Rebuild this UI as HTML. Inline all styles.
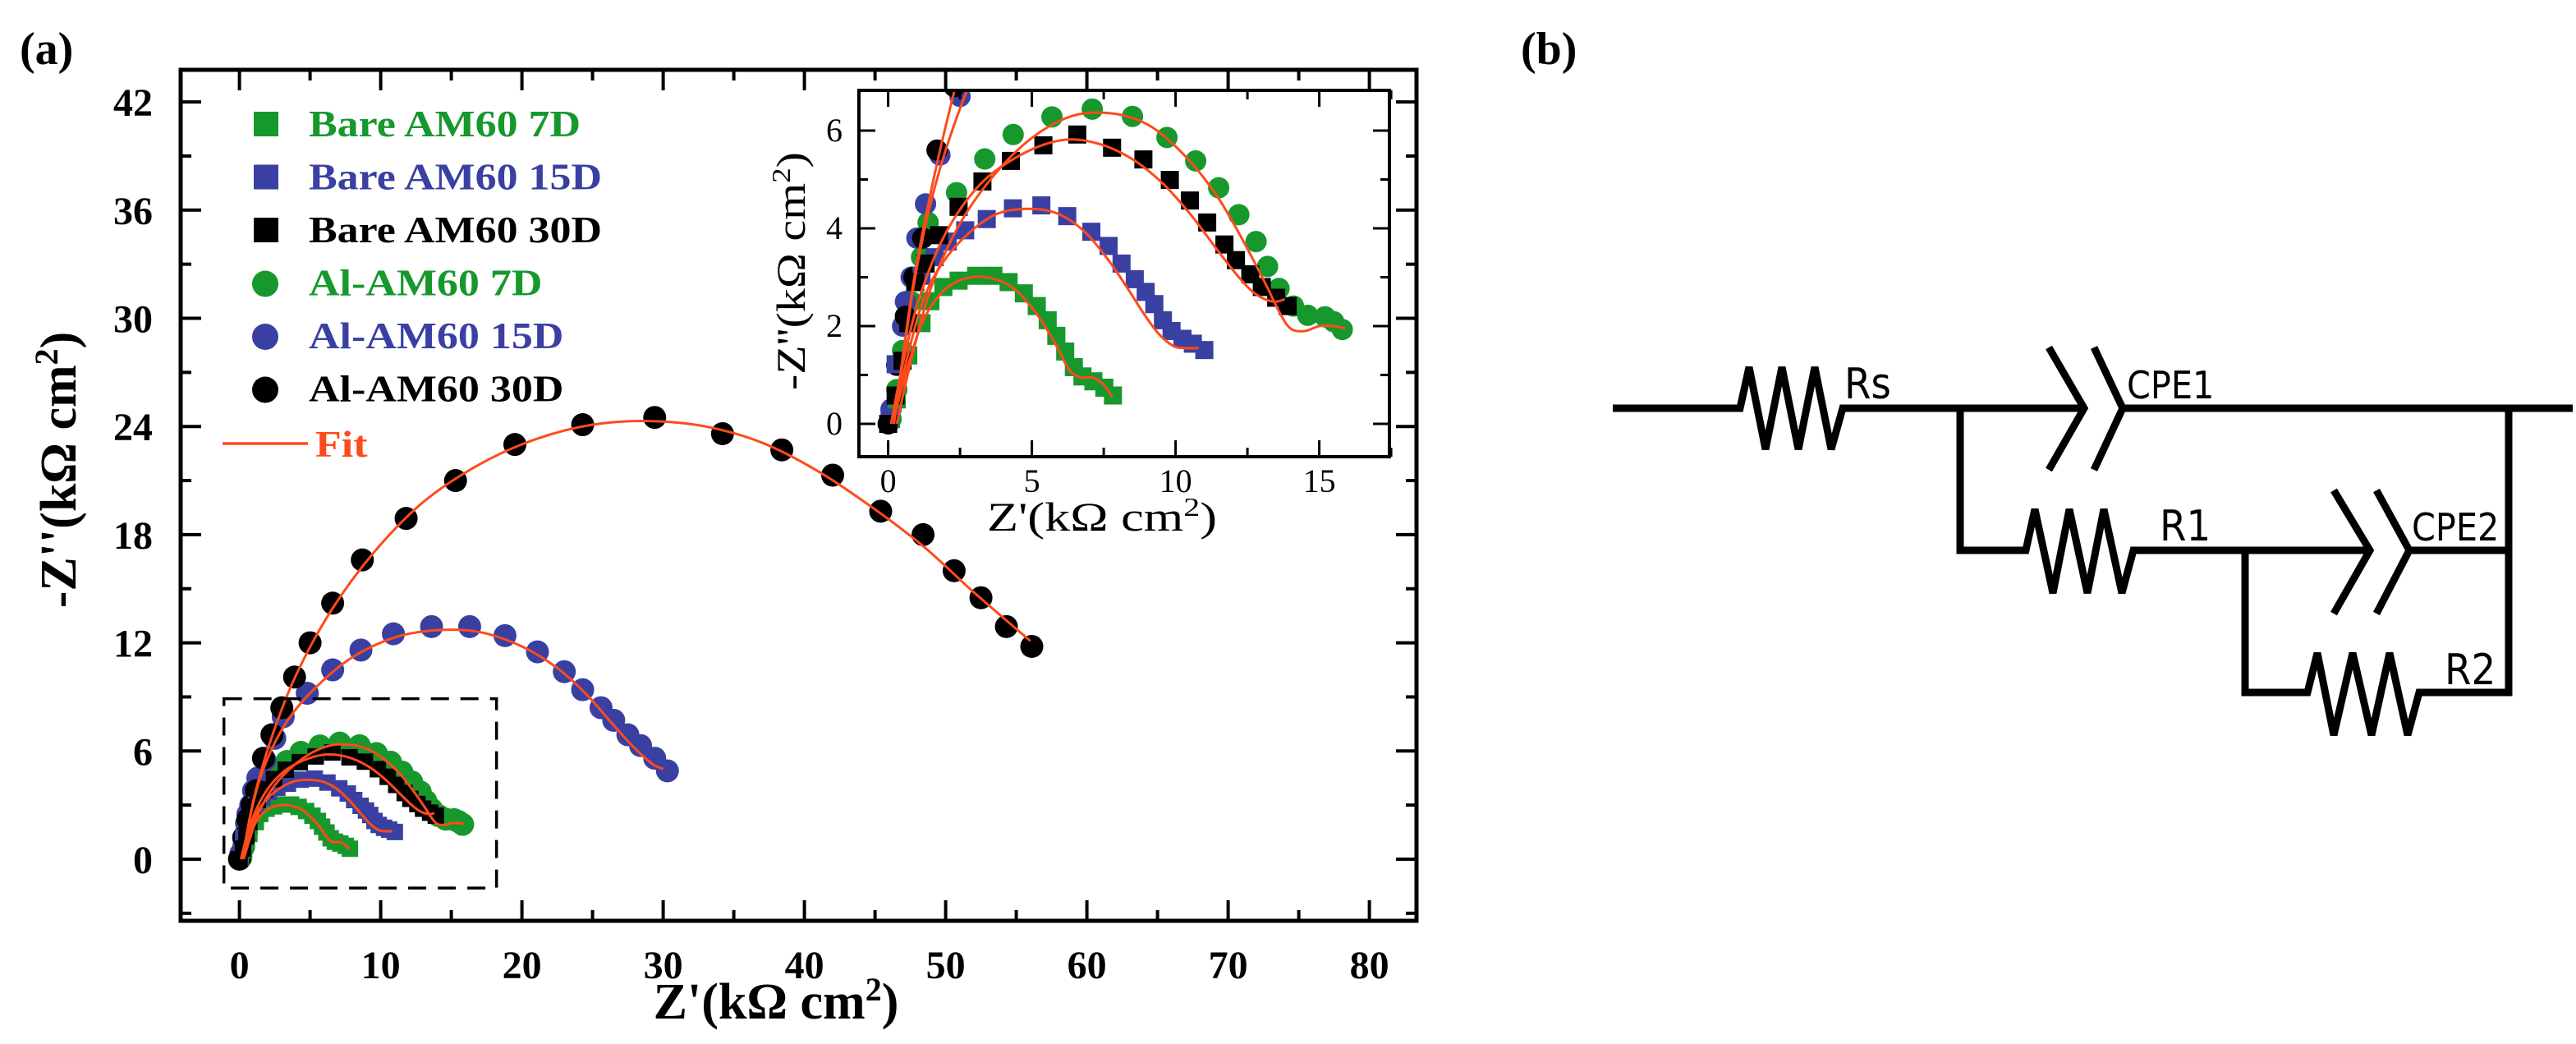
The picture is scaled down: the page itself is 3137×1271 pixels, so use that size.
<!DOCTYPE html>
<html><head><meta charset="utf-8"><style>
html,body{margin:0;padding:0;background:#fff;}
svg{display:block;}
</style></head><body>
<svg id="fig" width="3137" height="1271" viewBox="0 0 3137 1271" xmlns="http://www.w3.org/2000/svg">
<defs>
<clipPath id="insetClip"><rect x="1046" y="110" width="646" height="446"/></clipPath>
</defs>
<g id="panelA"></g>
<g id="panelB" fill="none" stroke="#000" stroke-width="9" stroke-linejoin="miter">
  <text x="1852" y="78" font-family="Liberation Serif, serif" font-weight="bold" font-size="56" fill="#000" stroke="none">(b)</text>
  <polyline points="1964,497 2119,497 2130,447 2150,547 2170,447 2190,547 2210,447 2230,547 2244,497 2387,497 2538,497"/>
  <text x="2246" y="485" font-family="DejaVu Sans Condensed, DejaVu Sans, sans-serif" font-size="52" fill="#000" stroke="none">Rs</text>
  <polyline points="2495,423 2538,497 2495,572"/>
  <polyline points="2550,423 2585,497 2550,572"/>
  <line x1="2585" y1="497" x2="3133" y2="497"/>
  <text x="2590" y="485" font-family="DejaVu Sans Condensed, DejaVu Sans, sans-serif" font-size="46" fill="#000" stroke="none">CPE1</text>
  <polyline points="2387,497 2387,670 2467,670 2478,620 2500,722 2520,620 2542,722 2562,620 2584,722 2598,670 2734,670 2886,670"/>
  <text x="2630" y="658" font-family="DejaVu Sans Condensed, DejaVu Sans, sans-serif" font-size="52" fill="#000" stroke="none">R1</text>
  <polyline points="2842,597 2886,670 2842,747"/>
  <polyline points="2894,597 2934,670 2894,747"/>
  <line x1="2934" y1="670" x2="3055" y2="670"/>
  <text x="2937" y="658" font-family="DejaVu Sans Condensed, DejaVu Sans, sans-serif" font-size="46" fill="#000" stroke="none">CPE2</text>
  <polyline points="2734,670 2734,843 2810,843 2822,795 2842,895 2865,795 2888,895 2910,795 2932,895 2946,843 3055,843 3055,497"/>
  <text x="2977" y="833" font-family="DejaVu Sans Condensed, DejaVu Sans, sans-serif" font-size="52" fill="#000" stroke="none">R2</text>
</g>
</svg>
<script>
// ---- data (kΩ cm²) ----
const seriesNames = ["Bare AM60 7D","Bare AM60 15D","Bare AM60 30D","Al-AM60 7D","Al-AM60 15D","Al-AM60 30D"];
const seriesColors = ["#17982c","#3a40a2","#000000","#17982c","#3a40a2","#000000"];
const seriesShapes = ["square","square","square","circle","circle","circle"];
const bare7X = [0.1,0.3,0.7,1.16,1.47,1.92,2.45,3.06,3.66,4.19,4.72,5.17,5.55,5.85,6.16,6.46,6.76,7.14,7.52,7.82];
const bare7Y = [0.1,0.5,1.4,2.06,2.51,2.8,2.93,3.03,3.03,2.9,2.67,2.41,2.12,1.8,1.48,1.16,0.97,0.87,0.74,0.58];
const bare15X = [0.05,0.26,0.7,1.16,1.62,2.07,2.68,3.43,4.34,5.33,6.23,7.07,7.67,8.12,8.58,8.96,9.26,9.56,9.86,10.24,10.6,11.0];
const bare15Y = [0.1,1.22,2.06,3.03,3.41,3.73,3.96,4.19,4.41,4.47,4.25,3.93,3.64,3.28,2.96,2.7,2.45,2.12,1.9,1.74,1.64,1.51];
const bare30X = [0,0.26,0.5,0.7,0.94,1.3,1.77,2.45,3.28,4.27,5.4,6.58,7.79,8.88,9.8,10.5,11.1,11.7,12.1,12.6,13.0,13.5,13.9];
const bare30Y = [0,0.58,1.29,2.06,2.9,3.28,3.86,4.44,4.96,5.38,5.7,5.92,5.65,5.41,4.99,4.57,4.12,3.67,3.35,3.06,2.8,2.58,2.41];
const al7X = [0.1,0.3,0.5,0.8,1.16,1.39,2.38,3.36,4.35,5.7,7.1,8.5,9.7,10.7,11.5,12.2,12.8,13.2,13.6,14.1,14.6,15.2,15.5,15.8];
const al7Y = [0.1,0.7,1.5,2.5,3.41,4.12,4.73,5.42,5.92,6.28,6.44,6.29,5.86,5.38,4.83,4.28,3.73,3.22,2.77,2.41,2.22,2.19,2.09,1.93];
const al15X = [0.1,0.3,0.5,0.6,0.8,1.0,1.3,1.8,2.5,3.1,4.8,6.6,8.6,10.9,13.6,16.3,18.8,21.1,23.0,24.3,25.6,26.5,27.5,28.4,29.4,30.3];
const al15Y = [0.3,1.2,2.0,2.5,3.0,3.8,4.5,5.5,6.7,7.9,9.2,10.5,11.6,12.5,12.9,12.9,12.4,11.5,10.4,9.4,8.4,7.7,6.9,6.3,5.6,4.9];
const al30X = [0,0.3,0.6,0.9,1.2,1.7,2.3,3.0,3.9,5.0,6.6,8.7,11.8,15.3,19.5,24.3,29.4,34.2,38.4,42.0,45.4,48.4,50.6,52.5,54.3,56.1];
const al30Y = [0,1.2,2.2,3.0,3.8,5.6,6.9,8.4,10.1,12.0,14.2,16.6,18.9,21.0,23.0,24.1,24.5,23.6,22.7,21.3,19.3,18.0,16.0,14.5,12.9,11.8];
// fit curves (equivalent circuit fits)
const fitBare7X = [0.2,0.6,1.1,1.6,2.2,2.9,3.6,4.3,4.9,5.4,5.9,6.3,6.7,7.1,7.5,7.8];
const fitBare7Y = [0.1,1.0,1.95,2.5,2.85,3.0,2.98,2.8,2.45,2.05,1.55,1.1,0.95,0.95,0.8,0.55];
const fitBare15X = [0.2,0.6,1.2,1.9,2.8,3.8,4.9,5.9,6.8,7.6,8.3,8.9,9.4,9.9,10.3,10.8];
const fitBare15Y = [0.1,1.2,2.5,3.3,3.9,4.3,4.4,4.3,3.95,3.4,2.8,2.25,1.85,1.6,1.55,1.55];
const fitBare30X = [0.1,0.5,1.1,2.0,3.2,4.6,6.0,7.2,8.4,9.5,10.5,11.4,12.2,12.8,13.4,13.8];
const fitBare30Y = [0,1.2,2.6,3.9,4.9,5.5,5.8,5.75,5.45,4.95,4.3,3.6,3.0,2.65,2.5,2.55];
const fitAl7X = [0.3,0.8,1.5,2.5,3.7,5.0,6.4,7.8,9.1,10.3,11.4,12.3,13.1,13.6,14.0,14.5,15.0,15.5,15.9];
const fitAl7Y = [0,1.3,2.8,4.1,5.1,5.85,6.3,6.35,6.1,5.5,4.7,3.8,2.9,2.3,1.95,1.9,2.0,2.0,1.95];
const fitAl15X = [0.2,1.0,2.0,3.5,5.5,8.0,11,14,17,20,22.5,24.5,26.3,27.8,29.2,30.0];
const fitAl15Y = [0,3.2,5.6,7.8,9.6,11.2,12.3,12.7,12.6,11.8,10.6,9.2,7.6,6.3,5.3,5.0];
const fitAl30X = [0.2,1.0,2.3,4.0,6.5,9.5,13,17,21,25,29,33,37,41,45,48.5,52,56];
const fitAl30Y = [0,3.3,6.8,10.2,13.8,17.0,19.8,21.9,23.3,24.1,24.3,24.0,23.1,21.5,19.4,17.3,14.8,12.1];
// axes
const mainXTicks = [0,10,20,30,40,50,60,70,80];
const mainYTicks = [0,6,12,18,24,30,36,42];
const insetXTicks = [0,5,10,15];
const insetYTicks = [0,2,4,6];

const NS="http://www.w3.org/2000/svg";
const A=document.getElementById('panelA');
function mk(tag,attrs,parent){const e=document.createElementNS(NS,tag);for(const k in attrs)e.setAttribute(k,attrs[k]);(parent||A).appendChild(e);return e;}

const M={l:220,r:1725,t:85,b:1121,x0:291.6,kx:17.2,y0:1046,ky:21.95};
const mx=v=>M.x0+v*M.kx, my=v=>M.y0-v*M.ky;
const I={l:1046,r:1692,t:110,b:556,x0:1081.6,kx:35,y0:516,ky:59.5};
const ix=v=>I.x0+v*I.kx, iy=v=>I.y0-v*I.ky;

function smoothPath(xs,ys,fx,fy){
  const p=xs.map((x,i)=>[fx(x),fy(ys[i])]);
  let d=`M${p[0][0]},${p[0][1]}`;
  for(let i=0;i<p.length-1;i++){
    const p0=p[i-1]||p[i],p1=p[i],p2=p[i+1],p3=p[i+2]||p2;
    const c1=[p1[0]+(p2[0]-p0[0])/6,p1[1]+(p2[1]-p0[1])/6];
    const c2=[p2[0]-(p3[0]-p1[0])/6,p2[1]-(p3[1]-p1[1])/6];
    d+=` C${c1[0]},${c1[1]} ${c2[0]},${c2[1]} ${p2[0]},${p2[1]}`;
  }
  return d;
}
const dataX=[bare7X,bare15X,bare30X,al7X,al15X,al30X];
const dataY=[bare7Y,bare15Y,bare30Y,al7Y,al15Y,al30Y];
const fitX=[fitBare7X,fitBare15X,fitBare30X,fitAl7X,fitAl15X,fitAl30X];
const fitY=[fitBare7Y,fitBare15Y,fitBare30Y,fitAl7Y,fitAl15Y,fitAl30Y];
const drawOrder=[3,4,5,0,1,2];

function drawMarkers(g,fx,fy,sq,rc){
  drawOrder.forEach(s=>{
    const sg=mk('g',{fill:seriesColors[s]},g);
    
    
    dataX[s].forEach((x,i)=>{
      let e;
      if(seriesShapes[s]==='square') e=mk('rect',{x:fx(x)-sq/2,y:fy(dataY[s][i])-sq/2,width:sq,height:sq},sg);
      else e=mk('circle',{cx:fx(x),cy:fy(dataY[s][i]),r:rc},sg);
      
      
    });
  });
}
function drawFits(g,fx,fy,w){
  fitX.forEach((xs,s)=>{
    const p=mk('path',{d:smoothPath(xs,fitY[s],fx,fy),fill:'none',stroke:'#ff4a1c','stroke-width':w},g);
    
    
  });
}

const la=mk('text',{x:24,y:78,'font-family':'Liberation Serif, serif','font-weight':'bold','font-size':56,fill:'#000'});
la.textContent='(a)';



const mainData=mk('g',{});


drawMarkers(mainData,mx,my,20,14);
drawFits(mainData,mx,my,3);

const db=mk('rect',{x:mx(-1.1),y:my(8.9),width:mx(18.2)-mx(-1.1),height:my(-1.6)-my(8.9),fill:'none',stroke:'#000','stroke-width':3.5,'stroke-dasharray':'22 14'});



const tk=mk('g',{stroke:'#000','stroke-width':4});


for(let v=0;v<=85;v+=5){const x=mx(v);if(x>M.r-3)continue;const L=v%10===0?25:13;
  mk('line',{x1:x,y1:M.b,x2:x,y2:M.b-L},tk);mk('line',{x1:x,y1:M.t,x2:x,y2:M.t+L},tk);}
for(let v=-3;v<=45;v+=3){const y=my(v);if(y<M.t+3||y>M.b-3)continue;const L=v%6===0?25:13;
  mk('line',{x1:M.l,y1:y,x2:M.l+L,y2:y},tk);mk('line',{x1:M.r,y1:y,x2:M.r-L,y2:y},tk);}
mainXTicks.forEach(v=>{const t=mk('text',{x:mx(v),y:1191,'text-anchor':'middle','font-family':'Liberation Serif, serif','font-weight':'bold','font-size':48,fill:'#000'});t.textContent=v;
  });
mainYTicks.forEach(v=>{const t=mk('text',{x:186,y:my(v)+17,'text-anchor':'end','font-family':'Liberation Serif, serif','font-weight':'bold','font-size':48,fill:'#000'});t.textContent=v;
  });
const fr=mk('rect',{x:M.l,y:M.t,width:M.r-M.l,height:M.b-M.t,fill:'none',stroke:'#000','stroke-width':5});



const xt=mk('text',{x:945,y:1240,'text-anchor':'middle','font-family':'Liberation Serif, serif','font-weight':'bold','font-size':62,fill:'#000'});
xt.innerHTML="Z'(kΩ cm<tspan baseline-shift='super' font-size='40'>2</tspan>)";


const yt=mk('text',{x:0,y:0,transform:'translate(92,572) rotate(-90)','text-anchor':'middle','font-family':'Liberation Serif, serif','font-weight':'bold','font-size':62,fill:'#000'});
yt.innerHTML="-Z''(kΩ cm<tspan baseline-shift='super' font-size='40'>2</tspan>)";



// legend
const lg=mk('g',{'font-family':'Liberation Serif, serif','font-weight':'bold','font-size':46});


seriesNames.forEach((n,i)=>{
  const by=166+i*64.5;
  const it=mk('g',{},lg);
  
  
  if(seriesShapes[i]==='square') mk('rect',{x:309,y:by-30,width:30,height:30,fill:seriesColors[i]},it);
  else mk('circle',{cx:323,cy:by-14,r:16,fill:seriesColors[i]},it);
  const tg=mk('g',{transform:`translate(376,${by}) scale(1.13,1)`},it);
  const t=mk('text',{x:0,y:0,fill:seriesColors[i]},tg);t.textContent=n;
});
const fe=mk('g',{},lg);


mk('line',{x1:271,y1:540,x2:375,y2:540,stroke:'#ff4a1c','stroke-width':3.5},fe);
const ftg=mk('g',{transform:'translate(384,556) scale(1.13,1)'},fe);
const ft=mk('text',{x:0,y:0,fill:'#ff4a1c'},ftg);ft.textContent='Fit';

// inset
const ins=mk('g',{});


mk('rect',{x:I.l,y:I.t,width:I.r-I.l,height:I.b-I.t,fill:'#fff'},ins);
const inD=mk('g',{'clip-path':'url(#insetClip)'},ins);
drawMarkers(inD,ix,iy,22,13);
drawFits(inD,ix,iy,3);
const itk=mk('g',{stroke:'#000','stroke-width':3},ins);
for(let v=0;v<=17.5;v+=2.5){const x=ix(v);const L=v%5===0?20:11;
  mk('line',{x1:x,y1:I.b,x2:x,y2:I.b-L},itk);mk('line',{x1:x,y1:I.t,x2:x,y2:I.t+L},itk);}
for(let v=0;v<=6;v+=1){const y=iy(v);const L=v%2===0?20:11;
  mk('line',{x1:I.l,y1:y,x2:I.l+L,y2:y},itk);mk('line',{x1:I.r,y1:y,x2:I.r-L,y2:y},itk);}
mk('rect',{x:I.l,y:I.t,width:I.r-I.l,height:I.b-I.t,fill:'none',stroke:'#000','stroke-width':4},ins);
insetXTicks.forEach(v=>{const t=mk('text',{x:ix(v),y:599,'text-anchor':'middle','font-family':'Liberation Serif, serif','font-size':40,fill:'#000'},ins);t.textContent=v;
  });
insetYTicks.forEach(v=>{const t=mk('text',{x:1026,y:iy(v)+13,'text-anchor':'end','font-family':'Liberation Serif, serif','font-size':40,fill:'#000'},ins);t.textContent=v;
  });
const ixt=mk('text',{x:1202,y:646,'font-family':'Liberation Serif, serif','font-size':50,fill:'#000',textLength:280,lengthAdjust:'spacingAndGlyphs'},ins);
ixt.innerHTML="Z'(kΩ cm<tspan baseline-shift='super' font-size='32'>2</tspan>)";


const iyt=mk('text',{x:-145,y:0,transform:'translate(980,330) rotate(-90)','font-family':'Liberation Serif, serif','font-size':50,fill:'#000',textLength:290,lengthAdjust:'spacingAndGlyphs'},ins);
iyt.innerHTML="-Z''(kΩ cm<tspan baseline-shift='super' font-size='32'>2</tspan>)";


</script>
</body></html>
